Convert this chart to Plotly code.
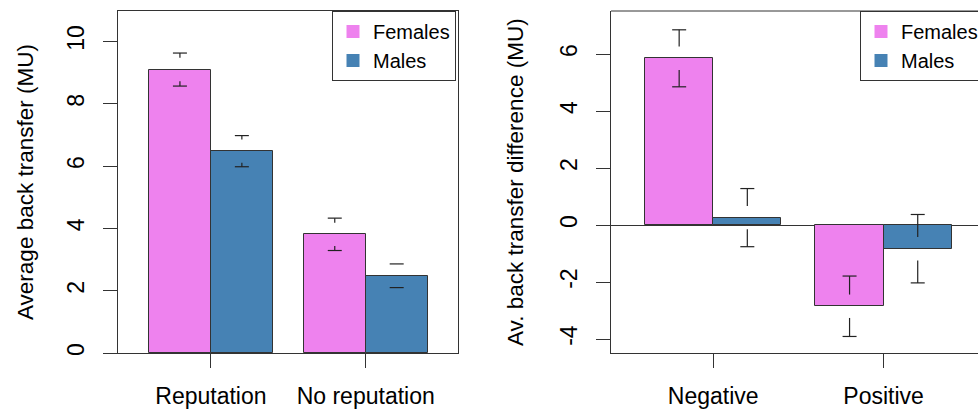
import plotly.graph_objects as go

W, H = 978, 411

# ---------------- data ----------------
rep_categories = ["Reputation", "No reputation"]
rep_females = [9.10, 3.81]
rep_males = [6.48, 2.48]
rep_females_se = [0.53, 0.52]
rep_males_se = [0.50, 0.38]

diff_categories = ["Negative", "Positive"]
diff_females = [5.85, -2.85]
diff_males = [0.26, -0.83]
diff_females_se = [1.00, 1.06]
diff_males_se = [1.02, 1.20]

series_names = ["Females", "Males"]
series_colors = ["#EE82EE", "#4682B4"]

left_yticks = [0, 2, 4, 6, 8, 10]
right_yticks = [-4, -2, 0, 2, 4, 6]

# ---------------- layout geometry (px) ----------------
TOP, BOTTOM = 11, 353
PLOT_H = BOTTOM - TOP
L_X0, L_X1 = 118, 458
R_X0, R_X1 = 611, 978
L_BARW = 61.93
R_BARW = 68.16
GROUP_STEP = 2.5          # bar-width units between group starts
GAP_PX = 11.7             # gap around the mean (plotCI style)
CAP_PX = 7.0              # half width of caps

l_xrange = [-0.5, -0.5 + (L_X1 - L_X0) / L_BARW]
r_xrange = [-0.5, -0.5 + (R_X1 - R_X0) / R_BARW]
l_yrange = [0, 10.98]
r_yrange = [-4.49, 7.51]

FONT = "Liberation Sans, Arial, sans-serif"
LINE = "#333333"
FS_TICK = 23
FS_TITLE = 22.5
FS_LEG = 20


def bar_x(g, s):
    return g * GROUP_STEP + s + 0.5


def group_center(g):
    return g * GROUP_STEP + 1.0


def tick_label(v):
    return str(v)  # plain hyphen-minus as in R


fig = go.Figure()


def add_panel(cats, fem, mal, fem_se, mal_se, xa, ya, yrange, barw):
    gap = GAP_PX * (yrange[1] - yrange[0]) / PLOT_H
    cap = CAP_PX / barw
    ex, ey = [], []
    for s, (vals, ses) in enumerate([(fem, fem_se), (mal, mal_se)]):
        xs = [bar_x(g, s) for g in range(len(cats))]
        fig.add_trace(go.Bar(
            x=xs, y=vals, width=1.0, xaxis=xa, yaxis=ya,
            marker=dict(color=series_colors[s], line=dict(color=LINE, width=1)),
            showlegend=False, name=series_names[s],
        ))
        for x, v, se in zip(xs, vals, ses):
            for sign in (1, -1):
                end = v + sign * se
                if se > gap:
                    ex += [x, x, None]
                    ey += [v + sign * gap, end, None]
                ex += [x - cap, x + cap, None]
                ey += [end, end, None]
    fig.add_trace(go.Scatter(
        x=ex, y=ey, mode="lines", xaxis=xa, yaxis=ya,
        line=dict(color="#222222", width=1.2), showlegend=False, hoverinfo="skip",
    ))


add_panel(rep_categories, rep_females, rep_males, rep_females_se, rep_males_se,
          "x", "y", l_yrange, L_BARW)
add_panel(diff_categories, diff_females, diff_males, diff_females_se, diff_males_se,
          "x2", "y2", r_yrange, R_BARW)

# legend entries
for lg in ("legend", "legend2"):
    for s in range(2):
        fig.add_trace(go.Scatter(
            x=[None], y=[None], mode="markers", name=series_names[s],
            marker=dict(symbol="square", size=13, color=series_colors[s], line=dict(width=0)),
            legend=lg, xaxis="x" if lg == "legend" else "x2",
            yaxis="y" if lg == "legend" else "y2",
        ))

axis_common = dict(
    showgrid=False, ticks="outside", ticklen=14, tickwidth=1, tickcolor=LINE,
    linecolor=LINE, linewidth=1, showline=True,
    tickfont=dict(family=FONT, size=FS_TICK, color="black"),
)

legend_common = dict(
    font=dict(family=FONT, size=FS_LEG, color="black"),
    bordercolor=LINE, borderwidth=1, bgcolor="white",
    yanchor="top", xanchor="left", tracegroupgap=0,
    itemclick=False, itemdoubleclick=False,
)

fig.update_layout(
    width=W, height=H,
    margin=dict(l=0, r=0, t=TOP, b=H - BOTTOM, autoexpand=False),
    paper_bgcolor="white", plot_bgcolor="white",
    barmode="overlay", bargap=0,
    font=dict(family=FONT, size=FS_TICK, color="black"),
    xaxis=dict(axis_common, domain=[L_X0 / W, L_X1 / W], range=l_xrange,
               tickvals=[group_center(g) for g in range(len(rep_categories))],
               ticktext=rep_categories, mirror=True, zeroline=False,
               ticklabelstandoff=8),
    yaxis=dict(axis_common, domain=[0, 1], range=l_yrange, tickvals=left_yticks,
               ticktext=[tick_label(v) for v in left_yticks],
               tickangle=-90, mirror=True, zeroline=False, ticklabelstandoff=10),
    xaxis2=dict(axis_common, domain=[R_X0 / W, 1.0], range=r_xrange, anchor="y2",
                tickvals=[group_center(g) for g in range(len(diff_categories))],
                ticktext=diff_categories, zeroline=False, ticklabelstandoff=8),
    yaxis2=dict(axis_common, domain=[0, 1], range=r_yrange, tickvals=right_yticks,
                ticktext=[tick_label(v) for v in right_yticks],
                anchor="x2", tickangle=-90, zeroline=True, zerolinecolor=LINE,
                zerolinewidth=1, ticklabelstandoff=10),
    legend=dict(legend_common, x=332 / W, y=1),
    legend2=dict(legend_common, x=860 / W, y=1),
    shapes=[dict(type="line", xref="x2 domain", yref="y2 domain",
                 x0=0, x1=1, y0=1, y1=1, line=dict(color=LINE, width=1))],
    annotations=[
        dict(text="Average back transfer (MU)", textangle=-90, showarrow=False,
             xref="paper", yref="paper", x=25 / W, y=1 - (182 - TOP) / PLOT_H,
             xanchor="center", yanchor="middle", font=dict(size=FS_TITLE)),
        dict(text="Av. back transfer difference (MU)", textangle=-90, showarrow=False,
             xref="paper", yref="paper", x=515 / W, y=1 - (182 - TOP) / PLOT_H,
             xanchor="center", yanchor="middle", font=dict(size=FS_TITLE)),
    ],
)

fig.write_html("out.html", config={"displayModeBar": False},
               post_script="document.body.style.margin='0px';")
